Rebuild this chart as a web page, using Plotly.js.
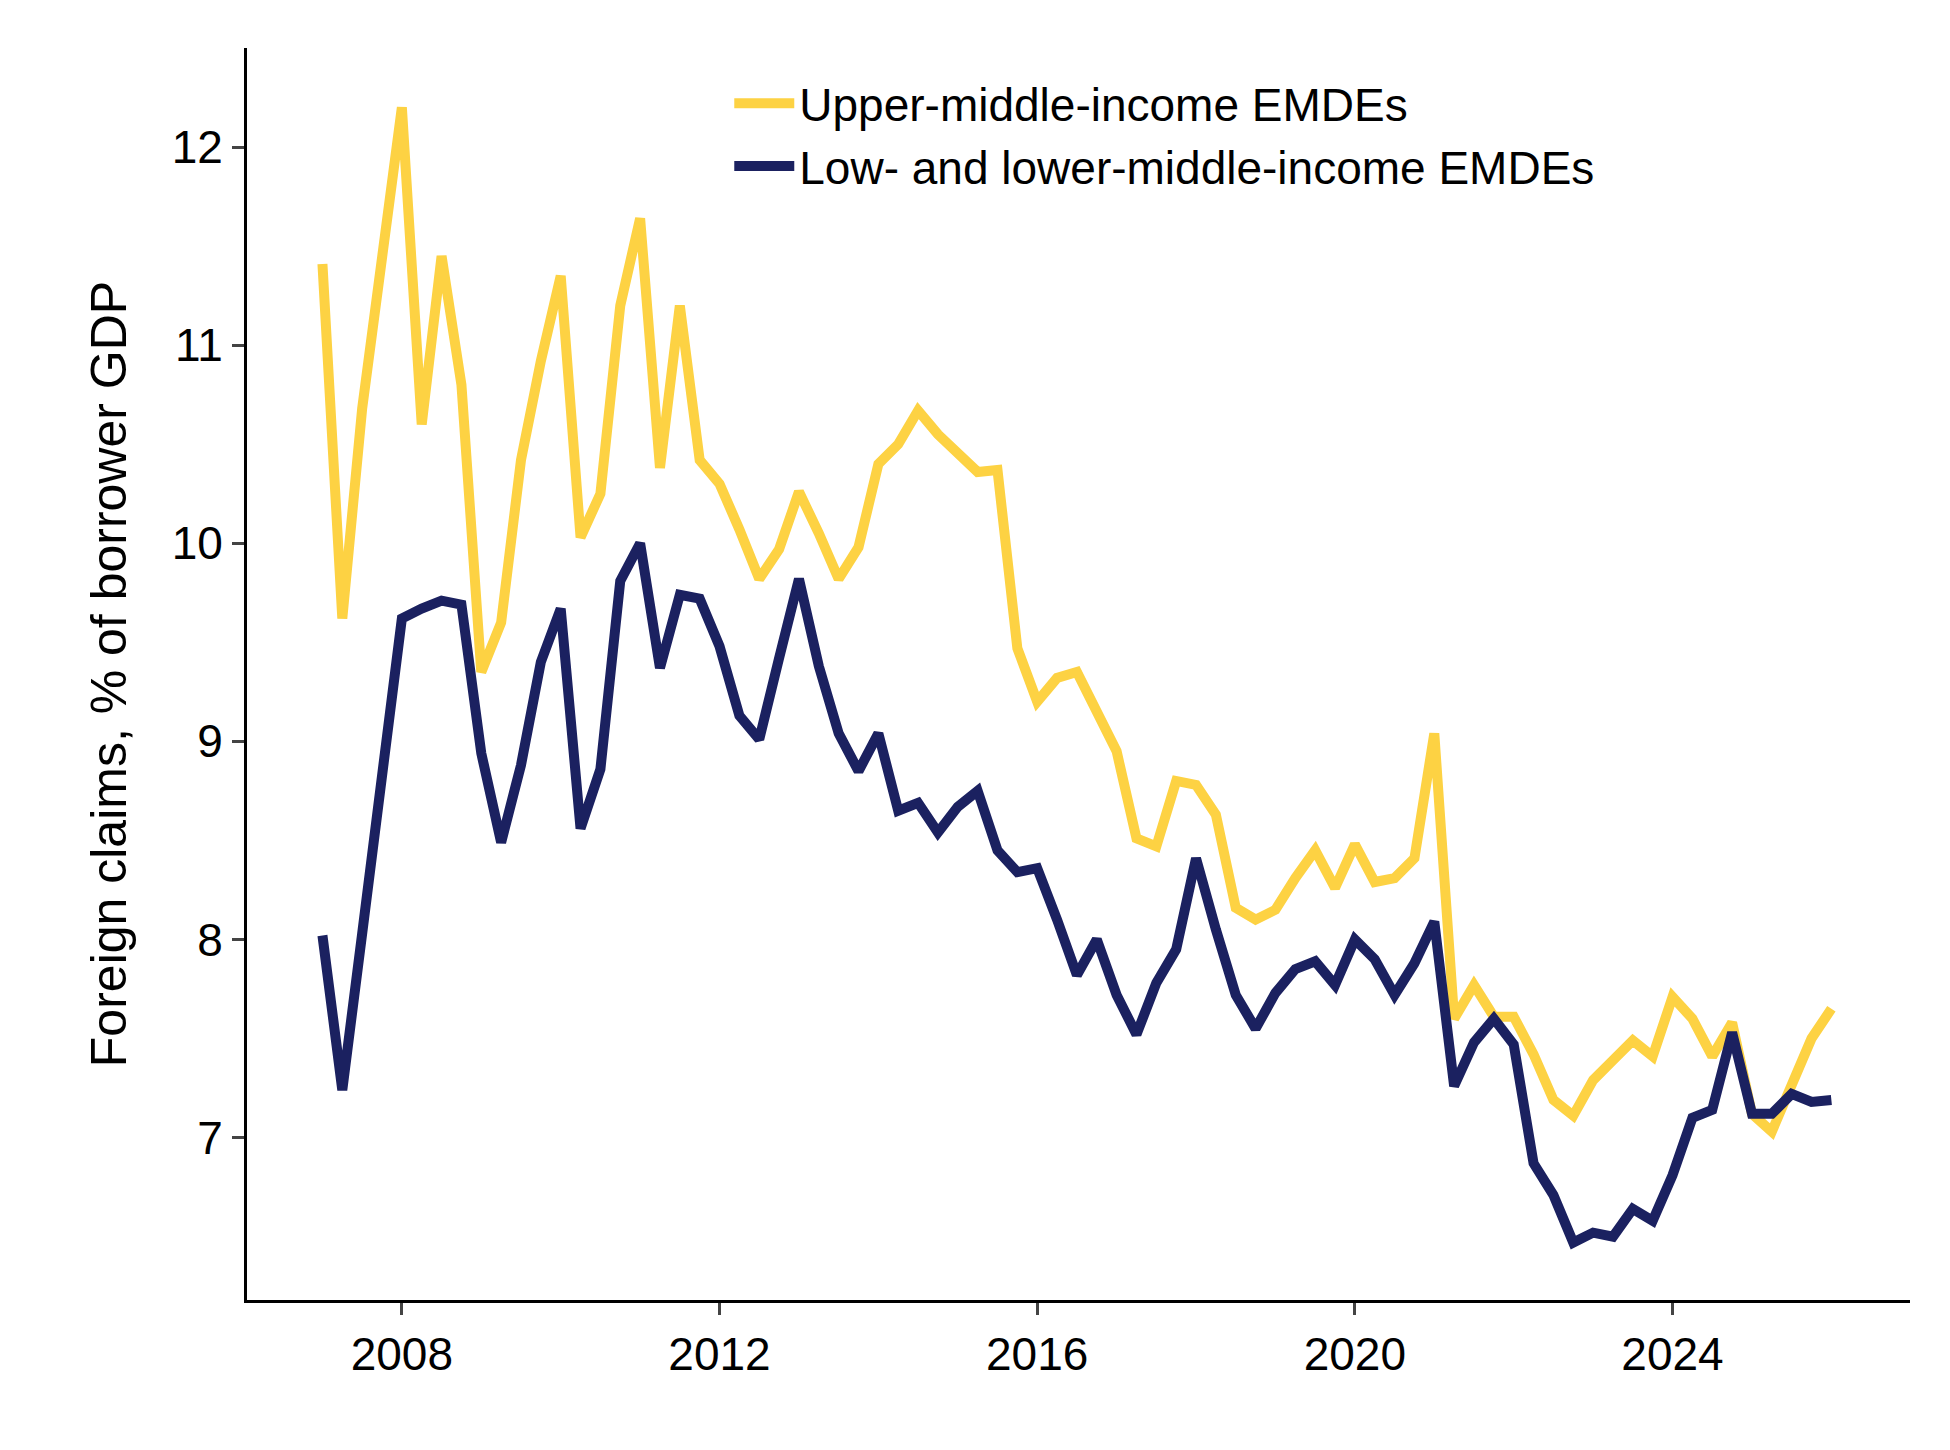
<!DOCTYPE html>
<html>
<head>
<script src="https://cdn.plot.ly/plotly-3.0.1.min.js"></script>
<style>body{margin:0;background:#fff}</style>
</head>
<body>
<div id="chart" style="width:1950px;height:1450px"></div>
<script>
var start_year = 2007
var upper_values = [11.41, 9.62, 10.68, 11.42, 12.2, 10.6, 11.45, 10.8, 9.35, 9.6, 10.42, 10.92, 11.35, 10.03, 10.25, 11.2,
    11.64, 10.38, 11.2, 10.42, 10.3, 10.07, 9.82, 9.97, 10.26, 10.05, 9.82, 9.98, 10.4, 10.5, 10.67, 10.55,
    10.45, 10.36, 10.37, 9.47, 9.2, 9.32, 9.35, 9.14, 8.95, 8.51, 8.47, 8.8, 8.78, 8.63, 8.16, 8.1,
    8.15, 8.31, 8.45, 8.26, 8.48, 8.29, 8.31, 8.41, 9.04, 7.6, 7.77, 7.61, 7.61, 7.42, 7.19, 7.11,
    7.29, 7.39, 7.49, 7.41, 7.71, 7.6, 7.41, 7.58, 7.12, 7.03, 7.28, 7.5, 7.65]
var lower_values = [8.02, 7.24, 8.03, 8.82, 9.62, 9.67, 9.71, 9.69, 8.94, 8.49, 8.88, 9.4, 9.67, 8.56, 8.86, 9.81,
    10.0, 9.37, 9.74, 9.72, 9.48, 9.13, 9.01, 9.42, 9.82, 9.38, 9.04, 8.85, 9.04, 8.65, 8.69, 8.54,
    8.67, 8.75, 8.45, 8.34, 8.36, 8.1, 7.82, 8.0, 7.72, 7.52, 7.78, 7.95, 8.41, 8.05, 7.72, 7.55,
    7.73, 7.85, 7.89, 7.77, 8.0, 7.9, 7.72, 7.88, 8.09, 7.26, 7.48, 7.6, 7.47, 6.87, 6.71, 6.47,
    6.52, 6.5, 6.64, 6.58, 6.81, 7.1, 7.14, 7.53, 7.12, 7.12, 7.22, 7.18, 7.19]
var x_values = upper_values.map(function (v, i) { return start_year + i * 0.25 })
var tick_years = [2008, 2012, 2016, 2020, 2024]

var trace1 = {
    x: x_values, y: upper_values, name: 'Upper-middle-income EMDEs',
    mode: 'lines', line: {color: '#FDD243', width: 10}, type: 'scatter'
}
var trace2 = {
    x: x_values, y: lower_values, name: 'Low- and lower-middle-income EMDEs',
    mode: 'lines', line: {color: '#1B2160', width: 10}, type: 'scatter'
}
var layout = {
    width: 1950, height: 1450,
    margin: {l: 247, r: 40, t: 48, b: 150},
    paper_bgcolor: 'white', plot_bgcolor: 'white',
    font: {family: 'Liberation Sans, Arial, sans-serif', size: 40, color: 'black'},
    showlegend: true,
    legend: {x: 0.29, y: 0.985, xanchor: 'left', yanchor: 'top', font: {size: 46}, tracegroupgap: 0, itemwidth: 60},
    xaxis: {
        range: [2006.05, 2026.99], tickvals: tick_years, ticktext: tick_years.map(String),
        showgrid: false, zeroline: false, showline: true, linewidth: 3, linecolor: 'black',
        ticks: 'outside', ticklen: 12, tickwidth: 3, tickfont: {size: 46}
    },
    yaxis: {
        range: [6.18, 12.5], tickvals: [7, 8, 9, 10, 11, 12],
        showgrid: false, zeroline: false, showline: true, linewidth: 3, linecolor: 'black',
        ticks: 'outside', ticklen: 12, tickwidth: 3, tickfont: {size: 46},
        title: {text: 'Foreign claims, % of borrower GDP', font: {size: 50}, standoff: 30}
    }
}
Plotly.newPlot('chart', [trace1, trace2], layout, {displayModeBar: false})
</script>
</body>
</html>
